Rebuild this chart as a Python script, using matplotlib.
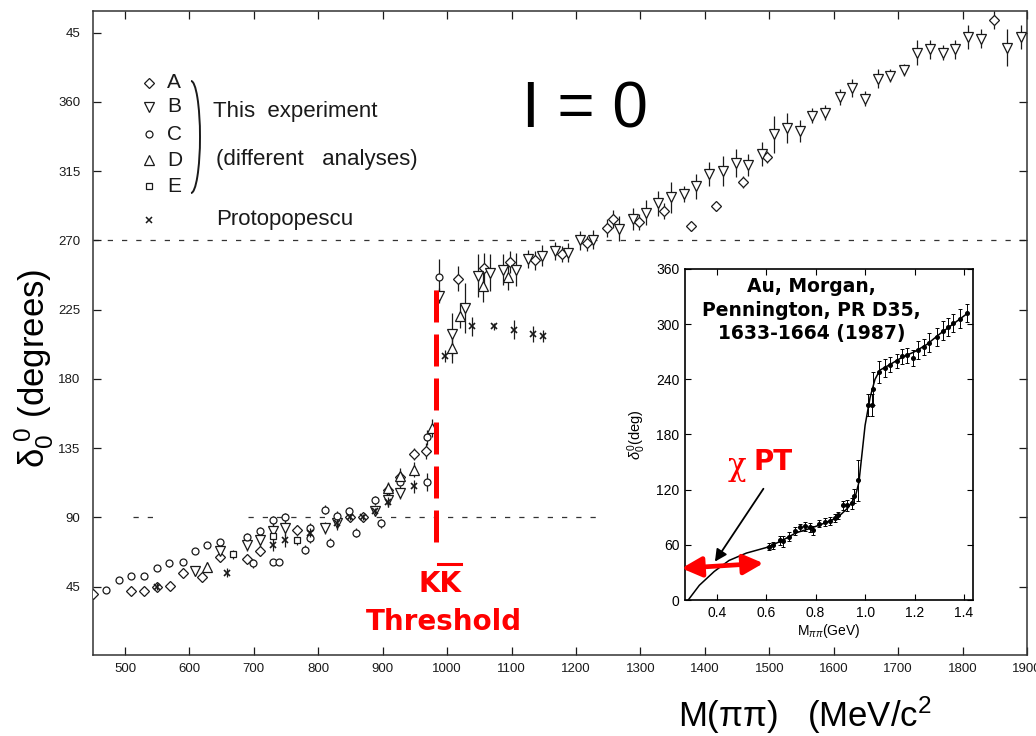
import matplotlib
matplotlib.use("Agg")
import matplotlib.pyplot as plt
from matplotlib.lines import Line2D
from matplotlib.patches import Arc

W, H = 1036, 736

# ---------------- main panel: I = 0 S-wave phase shift ----------------
# analysis A (diamonds)
a_mass = [451, 510, 530, 550, 570, 590, 619, 648, 689, 709, 767, 849, 870, 908,
          927, 948, 967, 1017, 1057, 1098, 1136, 1178, 1217, 1248, 1257, 1297,
          1337, 1378, 1417, 1459, 1497, 1849]
a_delta = [40, 42, 42, 45, 45.5, 54, 51, 64, 63, 68, 82, 90, 90, 108, 116, 131,
           133, 245, 252, 256, 257, 261, 268, 278, 284, 282, 289, 279, 292, 308,
           324, 413]
a_err = [3, 2, 2, 3, 2, 3, 3, 3, 3, 3, 3, 3, 3, 4, 4, 4, 5, 8, 10, 7, 6, 5, 5,
         6, 6, 5, 5, 3, 3, 4, 4, 6]

# analysis B (downward triangles)
b_mass = [609, 648, 689, 710, 729, 748, 810, 829, 888, 908, 927, 987, 1007, 1028,
          1048, 1066, 1087, 1107, 1126, 1147, 1167, 1187, 1206, 1227, 1267, 1288,
          1309, 1328, 1347, 1367, 1387, 1407, 1428, 1448, 1467, 1488, 1507, 1527,
          1548, 1567, 1587, 1609, 1628, 1648, 1669, 1688, 1709, 1729, 1749, 1769,
          1788, 1809, 1829, 1869, 1890]
b_delta = [55, 68, 72, 75, 81, 83, 83, 86, 94, 101, 106, 234, 209, 226, 247, 249,
           251, 251, 258, 260, 263, 262, 270, 270.5, 277.5, 284, 288, 294, 298,
           300, 305, 313, 315, 320, 319, 326, 339, 343, 341, 351, 353, 363, 369,
           362, 375, 377, 380.5, 392, 394, 392, 394, 402, 401, 395, 402]
b_err = [3, 4, 4, 4, 5, 5, 4, 4, 3, 4, 4, 5, 14, 16, 14, 12, 10, 11, 6, 7, 6, 6,
         6, 6, 8, 7, 8, 8, 10, 5, 8, 8, 10, 9, 7, 8, 12, 10, 7, 5, 5, 5, 6, 5, 6,
         4, 4, 8, 6, 5, 6, 8, 6, 12, 8]

# analysis C (circles)
c_mass = [470, 491, 510, 530, 550, 569, 590, 609, 627, 648, 689, 698, 710, 729,
          730, 739, 748, 779, 787, 787, 810, 818, 829, 848, 859, 888, 898, 927,
          968, 968, 987]
c_delta = [43, 49, 52, 52, 57, 60, 61, 68, 72, 74, 77, 60, 81, 88, 61, 61, 90, 69,
           83, 76.5, 95, 73.5, 91, 94, 80, 101, 86, 113, 113, 142, 246]
c_err = [2, 2, 2, 2, 2, 2, 2, 2, 2, 2, 3, 3, 3, 3, 2, 2, 3, 3, 3, 3, 3, 3, 3, 3,
         3, 3, 3, 3, 6, 5, 12]

# analysis D (upward triangles)
d_mass = [627, 908, 927, 948, 976, 1007, 1020, 1056, 1095]
d_delta = [58, 109, 117, 121, 148, 200, 221, 240, 246]
d_err = [3, 4, 5, 5, 6, 10, 8, 10, 8]

# analysis E (squares)
e_mass = [668, 729, 767]
e_delta = [66, 78, 75]
e_err = [3, 3, 3]

# Protopopescu et al. (crosses)
p_mass = [550, 659, 729, 748, 787, 829, 849, 870, 888, 908, 948, 997, 1038, 1072,
          1103, 1134, 1148]
p_delta = [45, 54, 72, 75, 80, 86, 90, 90, 94, 100, 110, 195, 214, 214, 212, 209,
           208]
p_err = [2, 3, 4, 4, 3, 3, 2, 2, 2, 3, 4, 4, 6, 2, 6, 5, 4]

x_ticks = [500, 600, 700, 800, 900, 1000, 1100, 1200, 1300, 1400, 1500, 1600,
           1700, 1800, 1900]
y_ticks = [45, 90, 135, 180, 225, 270, 315, 360, 405]
y_ticklabels = ["45", "90", "135", "180", "225", "270", "315", "360", "45"]

kk_threshold = 983          # MeV
threshold_span = (238, 74)  # deg, extent of the marker line

# ---------------- inset: Au, Morgan, Pennington ----------------
in_mass = [0.613, 0.628, 0.656, 0.67, 0.694, 0.717, 0.737, 0.757, 0.777, 0.79,
           0.815, 0.837, 0.857, 0.877, 0.89, 0.912, 0.925, 0.946, 0.955, 0.973,
           1.013, 1.026, 1.033, 1.058, 1.080, 1.10, 1.128, 1.148, 1.168, 1.193,
           1.215, 1.238, 1.26, 1.29, 1.314, 1.337, 1.357, 1.384, 1.411]
in_delta = [58, 59.5, 65, 64, 69, 75, 79, 80, 79, 76, 83, 85, 86, 89, 92, 103,
            103, 105, 113, 130, 212, 212, 230, 248, 252, 256, 260, 265, 266, 263,
            272, 275, 280, 286, 293, 297, 301, 306, 312]
in_err = [4, 4, 5, 6, 5, 4, 4, 5, 5, 5, 4, 4, 4, 4, 4, 5, 6, 6, 8, 22, 12, 12, 18,
          12, 10, 8, 8, 8, 8, 9, 10, 9, 10, 10, 10, 10, 10, 10, 10]

fit_mass = [0.285, 0.33, 0.39, 0.45, 0.52, 0.60, 0.66, 0.72, 0.78, 0.84, 0.89,
            0.93, 0.96, 0.975, 1.00, 1.02, 1.04, 1.06, 1.10, 1.15, 1.20, 1.25,
            1.30, 1.35, 1.41]
fit_delta = [0, 16, 31, 43, 51, 57, 64, 73, 78, 84, 90, 100, 112, 128, 190, 220,
             240, 250, 256, 264, 270, 278, 289, 299, 311]

in_xticks = [0.4, 0.6, 0.8, 1.0, 1.2, 1.4]
in_yticks = [0, 60, 120, 180, 240, 300, 360]

chpt_range = (0.258, 0.589)   # GeV, extent of the chiral arrow
chpt_level = (34.5, 40)       # deg at the two arrow tips


def fx(x):
    return x / W


def fy(y):
    return 1 - y / H


plt.rcParams["font.family"] = ["Liberation Sans", "DejaVu Sans"]
plt.rcParams["mathtext.fontset"] = "custom"
plt.rcParams["mathtext.rm"] = "Liberation Sans"
plt.rcParams["mathtext.it"] = "Liberation Sans:italic"

fig = plt.figure(figsize=(W / 100, H / 100), dpi=100)
fig.patch.set_facecolor("white")

ax = fig.add_axes([fx(93), fy(655), (1027 - 93) / W, (655 - 11) / H])
ax.set_xlim(450.3, 1900)
ax.set_ylim(0.5, 419)

ink = "#1a1a1a"
for s in ax.spines.values():
    s.set_color("#333333")
    s.set_linewidth(1.1)

ax.set_xticks(x_ticks)
ax.set_xticklabels([str(v) for v in x_ticks])
ax.set_yticks(y_ticks)
ax.set_yticklabels(y_ticklabels)
ax.tick_params(direction="in", length=6, width=0.9, top=True, right=True,
               labelsize=9.5, colors=ink)
ax.tick_params(axis="y", pad=9)
ax.tick_params(axis="x", pad=6)

# guide lines at 270 and 90 degrees
ax.plot([450.3, 1900], [270, 270], color="#333333", lw=0.9,
        ls=(0, (4.2, 7.2)), zorder=1)
ax.plot([512, 554], [90, 90], color="#333333", lw=0.9, ls=(0, (4.2, 7.2)), zorder=1)
ax.plot([691, 1238], [90, 90], color="#333333", lw=0.9, ls=(0, (4.2, 7.2)), zorder=1)

common = dict(ls="none", ecolor=ink, elinewidth=0.9, capsize=0, mfc="white",
              mec=ink, mew=0.9, zorder=3)
ax.errorbar(a_mass, a_delta, yerr=a_err, fmt="D", ms=4.6, **common)
ax.errorbar(b_mass, b_delta, yerr=b_err, fmt="v", ms=6.6, **common)
ax.errorbar(c_mass, c_delta, yerr=c_err, fmt="o", ms=5.0, **common)
ax.errorbar(d_mass, d_delta, yerr=d_err, fmt="^", ms=6.6, **common)
ax.errorbar(e_mass, e_delta, yerr=e_err, fmt="s", ms=4.2, **common)
ax.errorbar(p_mass, p_delta, yerr=p_err, fmt="x", ms=4.5, ls="none", ecolor=ink,
            elinewidth=0.9, capsize=0, color=ink, mew=1.2, zorder=4)

# K Kbar threshold marker
ax.plot([kk_threshold, kk_threshold], list(threshold_span), color="#ff0000",
        lw=3.6, dashes=(6.4, 2.4), solid_capstyle="butt",
        dash_capstyle="butt", zorder=5)

# ---------------- legend block ----------------
leg_rows = [("D", 4.6, 82.7, "A"), ("v", 6.6, 106.7, "B"), ("o", 5.0, 134, "C"),
            ("^", 6.6, 160, "D"), ("s", 4.2, 186, "E")]
for mk, ms, yy, lab in leg_rows:
    fig.add_artist(Line2D([fx(149)], [fy(yy)], marker=mk, ms=ms, mfc="white",
                          mec=ink, mew=0.9, ls="none",
                          transform=fig.transFigure))
    fig.text(fx(167), fy(yy), lab, fontsize=15, color=ink, va="center",
             ha="left")
fig.add_artist(Line2D([fx(149)], [fy(220)], marker="x", ms=4.5, color=ink,
                      mew=1.1, ls="none", transform=fig.transFigure))
fig.add_artist(Arc((fx(191), fy(137)), 18 / W, 112 / H, theta1=-90, theta2=90,
                   transform=fig.transFigure, color=ink, lw=1.4))
fig.text(fx(213), fy(112), "This  experiment", fontsize=16, color=ink,
         va="center", ha="left")
fig.text(fx(216), fy(160), "(different   analyses)", fontsize=16, color=ink,
         va="center", ha="left")
fig.text(fx(216), fy(220), "Protopopescu", fontsize=16, color=ink,
         va="center", ha="left")

# ---------------- headline texts ----------------
fig.text(fx(585), fy(110), "I = 0", fontsize=46, color="black", ha="center",
         va="center")
fig.text(fx(34), fy(368), r"$\mathregular{\delta_0^{\ 0}}$ (degrees)",
         fontsize=25, rotation=90, ha="center", va="center", color="black")
fig.text(fx(805), fy(715), r"M($\mathregular{\pi\pi}$)   (MeV/c$^2$",
         fontsize=25, ha="center", va="center", color="black")

red = "#ff0000"
fig.text(fx(440), fy(584), "KK", fontsize=20, fontweight="bold", color=red,
         ha="center", va="center", family="DejaVu Sans")
fig.add_artist(Line2D([fx(438), fx(461)], [fy(564), fy(564)], color=red, lw=2.2,
                      transform=fig.transFigure))
fig.text(fx(444), fy(622), "Threshold", fontsize=20, fontweight="bold",
         color=red, ha="center", va="center", family="DejaVu Sans")

# ---------------- inset ----------------
axi = fig.add_axes([fx(685), fy(600), (972.7 - 685) / W, (600 - 269) / H])
axi.set_facecolor("white")
axi.set_xlim(0.272, 1.435)
axi.set_ylim(0, 360)
for s in axi.spines.values():
    s.set_color("black")
    s.set_linewidth(1.2)
axi.set_xticks(in_xticks)
axi.set_xticklabels([f"{v:.1f}" for v in in_xticks])
axi.set_yticks(in_yticks)
axi.tick_params(direction="in", length=4, width=0.8, top=True, right=True,
                labelsize=10, colors="black", pad=4)
axi.plot(fit_mass, fit_delta, color="black", lw=1.1, zorder=2)
axi.errorbar(in_mass, in_delta, yerr=in_err, fmt="o", ms=2.6, color="black",
             ecolor="black", elinewidth=0.7, capsize=1.4, capthick=0.7,
             zorder=3)
axi.set_xlabel(r"M$_{\pi\pi}$(GeV)", fontsize=10, labelpad=2)
axi.set_ylabel(r"$\delta_0^0$(deg)", fontsize=10.5, labelpad=6)

axi.text(0.44, 0.975, "Au, Morgan,\nPennington, PR D35,\n1633-1664 (1987)",
         transform=axi.transAxes, ha="center", va="top", fontsize=13.5,
         fontweight="bold", family="DejaVu Sans", linespacing=1.3)

axi.annotate("", xy=(chpt_range[0], chpt_level[0]),
             xytext=(chpt_range[1], chpt_level[1]),
             arrowprops=dict(arrowstyle="<|-|>", color=red, lw=3.4,
                             mutation_scale=30, shrinkA=0, shrinkB=0),
             annotation_clip=False, zorder=6)
axi.annotate("", xy=(0.393, 41.7), xytext=(0.589, 121),
             arrowprops=dict(arrowstyle="-|>", color="black", lw=1.3,
                             mutation_scale=18, shrinkA=0, shrinkB=0),
             zorder=6)
fig.text(fx(737), fy(466), "χ", fontsize=22, color=red, ha="center",
         va="center", family="DejaVu Serif")
fig.text(fx(754), fy(462), "PT", fontsize=20, fontweight="bold", color=red,
         ha="left", va="center", family="DejaVu Sans")

fig.savefig("out.png", dpi=100, facecolor="white")
